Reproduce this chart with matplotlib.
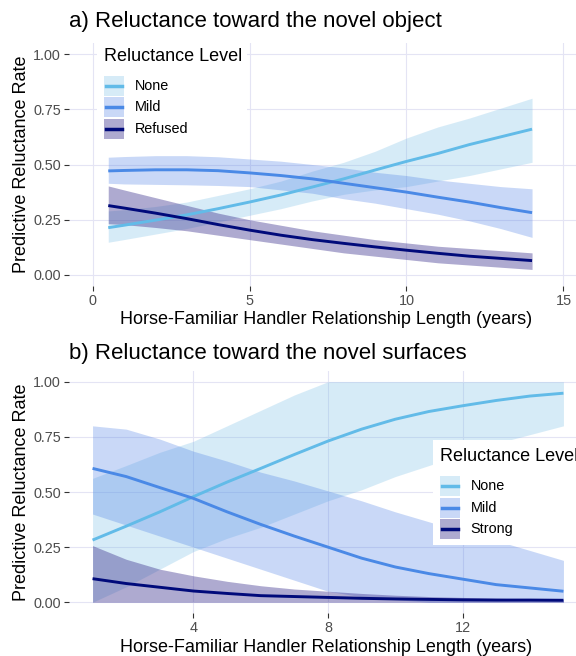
import numpy as np
import matplotlib
matplotlib.use("Agg")
from matplotlib import pyplot as plt
from matplotlib.patches import Rectangle
from matplotlib.lines import Line2D

plt.rcParams['font.family'] = ['Liberation Sans', 'DejaVu Sans']

# figure size in pixels (dpi 100)
FIG_W, FIG_H = 576, 656

# ---- a) novel object: predicted rates with confidence bands ----
years_obj = [0.5, 1, 2, 3, 4, 5, 6, 7, 8, 9, 10, 11, 12, 13, 14]
none_obj = [0.214, 0.225, 0.248, 0.272, 0.300, 0.330, 0.362, 0.398, 0.435,
            0.475, 0.514, 0.550, 0.590, 0.625, 0.660]
none_obj_lo = [0.148, 0.160, 0.185, 0.210, 0.240, 0.270, 0.300, 0.335, 0.365,
               0.385, 0.400, 0.425, 0.450, 0.480, 0.510]
none_obj_hi = [0.290, 0.295, 0.310, 0.330, 0.360, 0.390, 0.425, 0.470, 0.510,
               0.560, 0.620, 0.670, 0.710, 0.755, 0.800]
mild_obj = [0.471, 0.473, 0.476, 0.476, 0.472, 0.462, 0.450, 0.435, 0.415,
            0.395, 0.375, 0.352, 0.330, 0.305, 0.282]
mild_obj_lo = [0.415, 0.412, 0.410, 0.408, 0.405, 0.400, 0.385, 0.370, 0.345,
               0.325, 0.300, 0.275, 0.245, 0.210, 0.170]
mild_obj_hi = [0.533, 0.536, 0.540, 0.540, 0.535, 0.525, 0.515, 0.500, 0.485,
               0.465, 0.450, 0.430, 0.415, 0.400, 0.390]
refused_obj = [0.314, 0.303, 0.280, 0.255, 0.228, 0.203, 0.180, 0.160, 0.143,
               0.127, 0.112, 0.098, 0.085, 0.075, 0.065]
refused_obj_lo = [0.232, 0.228, 0.215, 0.200, 0.180, 0.160, 0.140, 0.120, 0.100,
                  0.085, 0.070, 0.055, 0.045, 0.035, 0.025]
refused_obj_hi = [0.403, 0.385, 0.350, 0.315, 0.280, 0.250, 0.225, 0.200, 0.180,
                  0.160, 0.145, 0.130, 0.120, 0.110, 0.100]

# ---- b) novel surfaces ----
years_surf = [1, 2, 3, 4, 5, 6, 7, 8, 9, 10, 11, 12, 13, 14, 15]
none_surf = [0.282, 0.345, 0.410, 0.479, 0.545, 0.607, 0.670, 0.731, 0.785,
             0.830, 0.865, 0.891, 0.915, 0.935, 0.948]
none_surf_lo = [0.000, 0.070, 0.150, 0.230, 0.290, 0.340, 0.400, 0.460, 0.510,
                0.570, 0.620, 0.670, 0.720, 0.760, 0.800]
none_surf_hi = [0.562, 0.620, 0.680, 0.730, 0.800, 0.870, 0.940, 1.000, 1.000,
                1.000, 1.000, 1.000, 1.000, 1.000, 1.000]
mild_surf = [0.607, 0.570, 0.520, 0.471, 0.410, 0.353, 0.300, 0.250, 0.200,
             0.160, 0.130, 0.105, 0.080, 0.065, 0.050]
mild_surf_lo = [0.400, 0.350, 0.300, 0.250, 0.200, 0.150, 0.100, 0.050, 0.025,
                0.012, 0.000, 0.000, 0.000, 0.000, 0.000]
mild_surf_hi = [0.800, 0.785, 0.740, 0.685, 0.640, 0.590, 0.550, 0.505, 0.460,
                0.410, 0.365, 0.320, 0.280, 0.235, 0.190]
strong_surf = [0.107, 0.085, 0.068, 0.051, 0.040, 0.030, 0.026, 0.022, 0.018,
               0.015, 0.013, 0.011, 0.010, 0.010, 0.009]
strong_surf_lo = [0.0] * 15
strong_surf_hi = [0.257, 0.195, 0.150, 0.120, 0.095, 0.075, 0.060, 0.050, 0.040,
                  0.032, 0.026, 0.022, 0.018, 0.015, 0.012]

LINE_COLORS = ['#62BBE8', '#4A89E6', '#000A7A']
FILL_COLORS = ['#6BB8E3', '#4D80E6', '#3F3590']
FILL_ALPHAS = [0.27, 0.30, 0.42]
GRID_COLOR = '#E4E4F4'


def px_fig(x, y):
    """ Convert pixel position (from top left) to figure fraction """
    return x / FIG_W, 1 - y / FIG_H
# enddef px_fig() #


def make_axes(fig, top, bottom, left=69, right=587):
    """ Add an axes whose panel spans the given pixel box """
    x0, y0 = px_fig(left, bottom)
    return fig.add_axes([x0, y0, (right - left) / FIG_W, (bottom - top) / FIG_H])
# enddef make_axes() #


def style_axes(ax, xlim, xticks):
    """ Minimal theme: light grid, no spines, gray tick labels """
    ax.set_xlim(*xlim)
    ax.set_ylim(-0.05, 1.05)
    ax.set_xticks(xticks)
    ax.set_yticks([0, 0.25, 0.5, 0.75, 1.0])
    ax.set_yticklabels(['0.00', '0.25', '0.50', '0.75', '1.00'])
    for s in ax.spines.values():
        s.set_visible(False)
    ax.grid(True, color=GRID_COLOR, linewidth=0.8)
    ax.set_axisbelow(True)
    ax.tick_params(length=3.3, width=0.8, color='#333333', pad=2.5,
                   labelsize=10.4, labelcolor='#4D4D4D')
# enddef style_axes() #


def plot_series(ax, x, series):
    """ Draw confidence ribbons first, then the predicted lines on top """
    for i, (_, lo, hi) in enumerate(series):
        ax.fill_between(x, lo, hi, color=FILL_COLORS[i], alpha=FILL_ALPHAS[i],
                        linewidth=0)
    for i, (mid, _, _) in enumerate(series):
        ax.plot(x, mid, color=LINE_COLORS[i], linewidth=2.1,
                solid_capstyle='butt')
# enddef plot_series() #


def draw_legend(fig, left, top, width, height, title, labels, title_y, row_y):
    """ Legend box with ribbon-style keys, placed in pixel coordinates """
    x0, y0 = px_fig(left, top + height)
    fig.patches.append(Rectangle((x0, y0), width / FIG_W, height / FIG_H,
                                 transform=fig.transFigure, facecolor='white',
                                 edgecolor='none', zorder=5))
    key_x = left + 7
    tx, ty = px_fig(key_x, title_y)
    fig.text(tx, ty, title, fontsize=13, ha='left', va='center', zorder=6)
    for i, lab in enumerate(labels):
        cy = row_y[i]
        kx, ky = px_fig(key_x, cy + 10)
        fig.patches.append(Rectangle((kx, ky), 20 / FIG_W, 20 / FIG_H,
                                     transform=fig.transFigure,
                                     facecolor=FILL_COLORS[i],
                                     alpha=FILL_ALPHAS[i],
                                     edgecolor='none', zorder=6))
        lx0, ly = px_fig(key_x + 2, cy)
        lx1, _ = px_fig(key_x + 18, cy)
        fig.lines.append(Line2D([lx0, lx1], [ly, ly], transform=fig.transFigure,
                                color=LINE_COLORS[i], linewidth=2.5, zorder=7))
        lbx, lby = px_fig(key_x + 31, cy)
        fig.text(lbx, lby, lab, fontsize=10.4, ha='left', va='center', zorder=7)
    # endfor #
# enddef draw_legend() #


def label_panel(fig, title, title_y, top, bottom):
    """ Panel title, y axis title and x axis title """
    fig.text(*px_fig(69, title_y), title, fontsize=16, ha='left', va='center')
    fig.text(*px_fig(22, (top + bottom) / 2), 'Predictive Reluctance Rate',
             fontsize=13, rotation=90, ha='center', va='center')
    fig.text(*px_fig(326, bottom + 34), 
             'Horse-Familiar Handler Relationship Length (years)',
             fontsize=13, ha='center', va='center')
# enddef label_panel() #


def main():
    fig = plt.figure(figsize=(FIG_W / 100, FIG_H / 100), dpi=100)

    # panel a
    ax_a = make_axes(fig, 43, 286)
    style_axes(ax_a, (-0.75, 15.75), [0, 5, 10, 15])
    plot_series(ax_a, years_obj, [(none_obj, none_obj_lo, none_obj_hi),
                                  (mild_obj, mild_obj_lo, mild_obj_hi),
                                  (refused_obj, refused_obj_lo, refused_obj_hi)])
    label_panel(fig, 'a) Reluctance toward the novel object', 22, 43, 286)
    draw_legend(fig, 97, 43, 150, 98, 'Reluctance Level',
                ['None', 'Mild', 'Refused'], 56.7, [85.7, 107.2, 128.7])

    # panel b
    ax_b = make_axes(fig, 370.7, 613.3)
    style_axes(ax_b, (0.3, 15.7), [4, 8, 12])
    plot_series(ax_b, years_surf, [(none_surf, none_surf_lo, none_surf_hi),
                                   (mild_surf, mild_surf_lo, mild_surf_hi),
                                   (strong_surf, strong_surf_lo, strong_surf_hi)])
    label_panel(fig, 'b) Reluctance toward the novel surfaces', 353, 370.7, 613.3)
    draw_legend(fig, 432.5, 440, 160, 105, 'Reluctance Level',
                ['None', 'Mild', 'Strong'], 456.7, [485.7, 507.7, 529.3])

    fig.savefig('out.png', dpi=100)
# enddef main() #


if __name__ == "__main__":
    main()
# endif #
